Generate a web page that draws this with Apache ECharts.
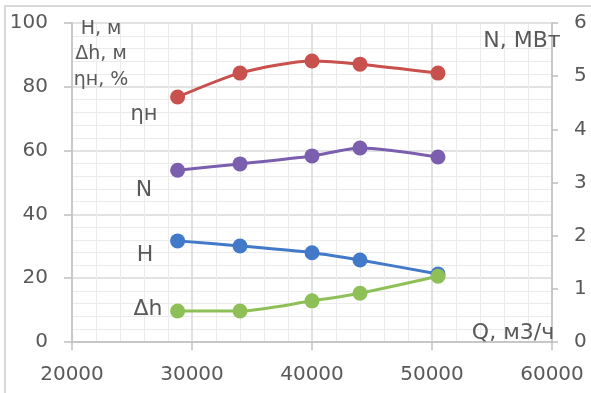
<!DOCTYPE html>
<html><head><meta charset="utf-8">
<script src="https://cdn.jsdelivr.net/npm/echarts@6/dist/echarts.min.js"></script>
<style>html,body{margin:0;padding:0;background:#fff}#c{width:591px;height:393px}</style>
</head><body><div id="c"></div>
<script>
const Q = [28800, 34000, 40000, 44000, 50500];
const etaH = [76.8, 84.3, 88.1, 87.1, 84.3];
const N = [3.23, 3.35, 3.5, 3.65, 3.48];
const H = [31.7, 30.1, 28.0, 25.7, 21.3];
const dh = [9.7, 9.7, 12.9, 15.3, 20.6];
const xTicks = [20000, 30000, 40000, 50000, 60000];
const yLeftTicks = [0, 20, 40, 60, 80, 100];
const yRightTicks = [0, 1, 2, 3, 4, 5, 6];

const pairs = (ys) => Q.map((q, i) => [q, ys[i]]);
const gray = '#595959';
const font = '"DejaVu Sans", Verdana, sans-serif';

function ser(name, ys, color, axis) {
  return {
    name, type: 'line', yAxisIndex: axis, data: pairs(ys), smooth: 0.25,
    symbol: 'circle', symbolSize: 15,
    lineStyle: { color, width: 3 }, itemStyle: { color }
  };
}

function txt(x, y, text, size) {
  return { type: 'text', x, y, z: 100, silent: true,
    style: { text, fill: gray, font: size + 'px ' + font, align: 'center', verticalAlign: 'middle' } };
}

const chart = echarts.init(document.getElementById('c'), null, { renderer: 'canvas' });
chart.setOption({
  animation: false,
  backgroundColor: '#fff',
  grid: { left: 72, right: 39, top: 23, bottom: 51 },
  xAxis: {
    type: 'value', min: xTicks[0], max: xTicks[xTicks.length - 1], interval: 10000,
    axisLine: { show: true, lineStyle: { color: '#bfbfbf', width: 1.5 } },
    axisTick: { show: true, length: 8, lineStyle: { color: '#bfbfbf', width: 1.5 } },
    axisLabel: { color: gray, fontSize: 20, fontFamily: font, margin: 23, formatter: (v) => String(v) },
    splitLine: { show: true, lineStyle: { color: '#d9d9d9', width: 1.5 } },
    minorTick: { show: false, splitNumber: 5 },
    minorSplitLine: { show: true, lineStyle: { color: '#ebebeb', width: 1 } }
  },
  yAxis: [
    {
      type: 'value', min: 0, max: 100, interval: 20, position: 'left',
      axisLine: { show: true, lineStyle: { color: '#bfbfbf', width: 1.5 } },
      axisTick: { show: true, length: 8, lineStyle: { color: '#bfbfbf', width: 1.5 } },
      axisLabel: { color: gray, fontSize: 20, fontFamily: font, margin: 24 },
      splitLine: { show: true, lineStyle: { color: '#d9d9d9', width: 1.5 } },
      minorTick: { show: false, splitNumber: 5 },
      minorSplitLine: { show: true, lineStyle: { color: '#ebebeb', width: 1 } }
    },
    {
      type: 'value', min: 0, max: 6, interval: 1, position: 'right',
      axisLine: { show: true, lineStyle: { color: '#bfbfbf', width: 1.5 } },
      axisTick: { show: true, length: 6, lineStyle: { color: '#bfbfbf', width: 1.5 } },
      axisLabel: { color: gray, fontSize: 20, fontFamily: font, margin: 22 },
      splitLine: { show: false }
    }
  ],
  series: [
    ser('ηн', etaH, '#C8504D', 0),
    ser('N', N, '#7B5EAE', 1),
    ser('H', H, '#4279C8', 0),
    ser('Δh', dh, '#8FC058', 0)
  ],
  graphic: [
    { type: 'rect', shape: { x: 5, y: 6, width: 600, height: 420 }, style: { fill: 'none', stroke: '#d9d9d9', lineWidth: 2 }, silent: true, z: -1 },
    txt(101, 29, 'H, м', 19),
    txt(101, 54, 'Δh, м', 19),
    txt(101, 80, 'ηн, %', 19),
    txt(522, 41, 'N, МВт', 22),
    txt(513, 333, 'Q, м3/ч', 22),
    txt(144, 115, 'ηн', 21),
    txt(144, 190, 'N', 22),
    txt(145, 255, 'H', 22),
    txt(148, 309, 'Δh', 22)
  ]
});
</script></body></html>
